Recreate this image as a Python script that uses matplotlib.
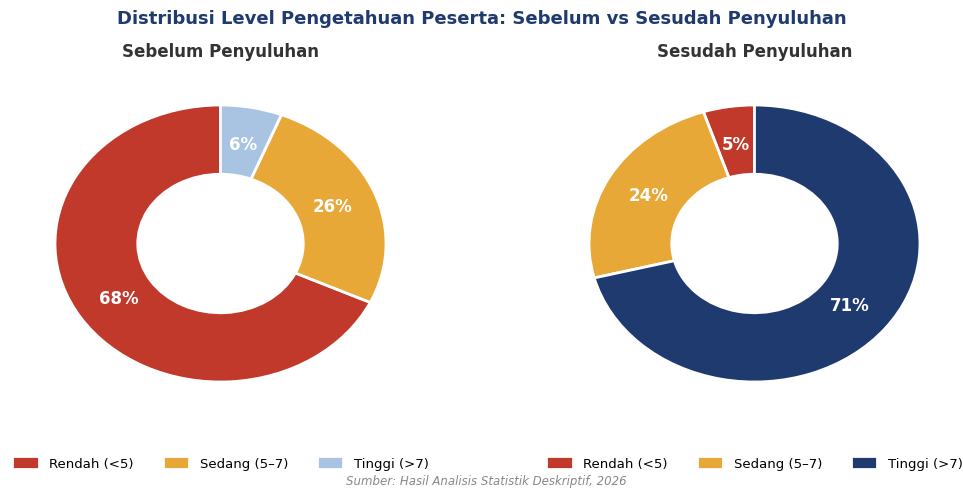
import matplotlib
matplotlib.use("Agg")
import matplotlib.pyplot as plt

categories = ["Rendah (<5)", "Sedang (5\u20137)", "Tinggi (>7)"]
sebelum = [68, 26, 6]
sesudah = [5, 24, 71]
colors_before = ["#c0392b", "#e8a838", "#a9c4e2"]
colors_after = ["#c0392b", "#e8a838", "#1f3a6e"]

fig = plt.figure(figsize=(9.63, 4.89), dpi=100)

# axes placed so that donuts sit where the reference has them (aspect left free)
ax1 = fig.add_axes([55 / 963, 1 - 383 / 489, 331 / 963, 277 / 489])
ax2 = fig.add_axes([589 / 963, 1 - 383 / 489, 331 / 963, 277 / 489])

for ax, vals, cols, title in [(ax1, sebelum, colors_before, "Sebelum Penyuluhan"),
                              (ax2, sesudah, colors_after, "Sesudah Penyuluhan")]:
    wedges, _, autotexts = ax.pie(
        vals, colors=cols, startangle=90, autopct="%.0f%%", pctdistance=0.73,
        wedgeprops=dict(width=0.5, edgecolor="white", linewidth=2),
        textprops=dict(color="white", fontsize=12, fontweight="bold"))
    ax.set_aspect("auto")
    ax.set_xlim(-1.0, 1.0)
    ax.set_ylim(-1.0, 1.0)
    ax.set_title(title, fontsize=12, fontweight="bold", color="#333333", pad=35)
    ax.legend(wedges, categories, loc="upper center", bbox_to_anchor=(0.5, -0.225),
              ncol=3, frameon=False, fontsize=9.5, handlelength=2.0,
              handleheight=1.1, columnspacing=2.2)

fig.suptitle("Distribusi Level Pengetahuan Peserta: Sebelum vs Sesudah Penyuluhan",
             fontsize=13, fontweight="bold", color="#1f3a6e", y=0.98)
fig.text(0.505, 0.003, "Sumber: Hasil Analisis Statistik Deskriptif, 2026",
         ha="center", va="bottom", fontsize=8.5, style="italic", color="#888888")

fig.savefig("out.png", dpi=100)
